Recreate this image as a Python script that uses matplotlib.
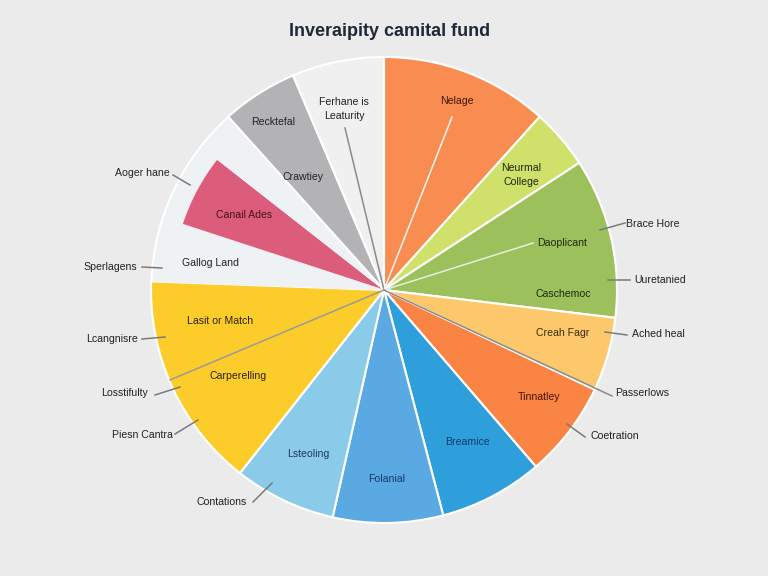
import numpy as np
import matplotlib
matplotlib.use('Agg')
import matplotlib.pyplot as plt
from matplotlib.patches import Wedge

plt.rcParams['font.family'] = ['Liberation Sans', 'DejaVu Sans']

# slice sizes, clockwise from 12 o'clock
segments = ['Nelage', 'Neurmal College', 'Daoplicant', 'Creah Fagr', 'Tinnatley',
            'Breamice', 'Folanial', 'Lsteoling', 'Carperelling', 'Gallog Land',
            'Canail Ades', 'Aoger hane', 'Recktefal', 'Ferhane is Leaturity']
shares = [42, 15, 40, 18.5, 24, 26, 27.5, 25.5, 54, 16, 20, 10, 19, 23]
colors = ['#f98c50', '#cfe06b', '#9cc05b', '#fdc86c', '#f98443',
          '#2f9fdc', '#5aa9e2', '#8acbea', '#fccd2a', '#eef2f5',
          '#dc5d7b', '#eef2f5', '#b3b3b5', '#f0f0f0']

title = 'Inveraipity camital fund'

# labels drawn inside the pie (text, x, y in pixels from top-left, color)
inner_labels = [
    ('Ferhane is\nLeaturity', 344, 109, '#222222'),
    ('Recktefal', 273, 122, '#222222'),
    ('Crawtiey', 303, 177, '#222222'),
    ('Canail Ades', 244, 215, '#4a0f1e'),
    ('Gallog Land', 210, 263, '#222222'),
    ('Nelage', 457, 101, '#3a1a0a'),
    ('Neurmal\nCollege', 521, 175, '#1f2a10'),
    ('Daoplicant', 562, 243, '#1f2a10'),
    ('Caschemoc', 563, 294, '#1f2a10'),
    ('Creah Fagr', 563, 333, '#3a2a10'),
    ('Tinnatley', 539, 397, '#4a1208'),
    ('Breamice', 467, 442, '#163a6a'),
    ('Folanial', 387, 479, '#163a6a'),
    ('Lsteoling', 308, 454, '#1f3a5a'),
    ('Lasit or Match', 220, 321, '#2a2208'),
    ('Carperelling', 238, 376, '#2a2208'),
]

# labels outside with short leader lines (text, text x, y, line start, line end)
outer_labels = [
    ('Aoger hane', 142, 173, (173, 175), (190, 185)),
    ('Sperlagens', 110, 267, (142, 267), (162, 268)),
    ('Lcangnisre', 112, 339, (142, 339), (165, 337)),
    ('Losstifulty', 125, 393, (155, 395), (180, 387)),
    ('Piesn Cantra', 142, 435, (175, 434), (198, 420)),
    ('Contations', 222, 502, (253, 502), (272, 483)),
    ('Brace Hore', 653, 224, (625, 223), (600, 230)),
    ('Uuretanied', 660, 280, (630, 280), (608, 280)),
    ('Ached heal', 658, 334, (627, 335), (605, 332)),
    ('Passerlows', 642, 393, None, None),
    ('Coetration', 615, 436, (585, 437), (567, 424)),
]

# long thin lines from the centre (end point in pixels, color)
spokes = [
    ((345, 128), '#8a8a8a'),
    ((452, 117), '#f4f4f4'),
    ((533, 243), '#e8efe0'),
    ((170, 380), '#9a9a9a'),
    ((612, 396), '#8a8a8a'),
]

W, H = 768, 576
cx, cy, R = 384, 290, 233


def px(x, y):
    return x, H - y


fig = plt.figure(figsize=(7.68, 5.76), dpi=100)
fig.patch.set_facecolor('#ebebeb')
ax = fig.add_axes([0, 0, 1, 1])

wedges, _ = ax.pie(shares, colors=colors, startangle=90, counterclock=False,
                   center=px(cx, cy), radius=R, frame=True,
                   wedgeprops=dict(edgecolor='white', linewidth=1.5))
ax.set_xlim(0, W)
ax.set_ylim(0, H)
ax.set_aspect('equal')
ax.axis('off')

# pale slices either side of the pink one blend into one area
pale_a = wedges[segments.index('Gallog Land')]
pale_b = wedges[segments.index('Aoger hane')]
for w in (pale_a, pale_b):
    w.set_edgecolor('#eef2f5')
    w.set_linewidth(0.5)

# pink slice sits a bit inside the rim, pale fill behind it
pink = wedges[segments.index('Canail Ades')]
z = pink.get_zorder()
ax.add_patch(Wedge(pink.center, R, pink.theta1, pink.theta2,
                   facecolor='#eef2f5', edgecolor='none', zorder=z - 0.5))
# white outer rim over the pale area
ax.add_patch(Wedge(pink.center, R + 0.75, pale_b.theta1, pale_a.theta2, width=2,
                   facecolor='white', edgecolor='none', zorder=z + 0.5))
pink.set_radius(R * 0.91)
pink.set_edgecolor('#eef2f5')
pink.set_linewidth(0.5)

for (ex, ey), c in spokes:
    ax.plot([cx, ex], [H - cy, H - ey], color=c, lw=1.1, zorder=3)

for text, x, y, c in inner_labels:
    ax.text(x, H - y, text, ha='center', va='center', fontsize=7.6,
            color=c, linespacing=1.5, zorder=4)

for text, x, y, p0, p1 in outer_labels:
    ax.text(x, H - y, text, ha='center', va='center', fontsize=7.6,
            color='#222222', zorder=4)
    if p0 is not None:
        ax.plot([p0[0], p1[0]], [H - p0[1], H - p1[1]], color='#7a7a7a',
                lw=1.1, zorder=3)

ax.text(390, H - 32, title, ha='center', va='center', fontsize=13,
        fontweight='bold', color='#1e2838')

fig.savefig('out.png', dpi=100, facecolor=fig.get_facecolor())
